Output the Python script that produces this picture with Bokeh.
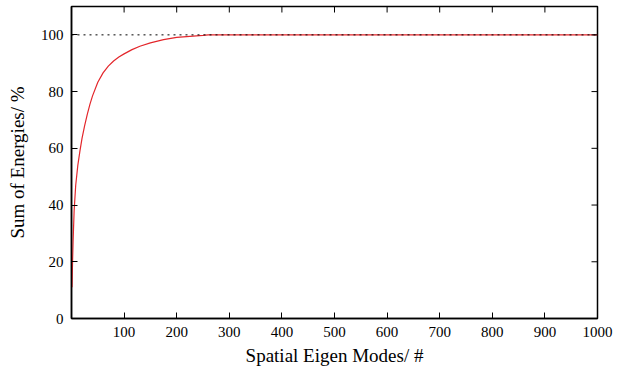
import math
from bokeh.plotting import figure
from bokeh.models import FixedTicker, Range1d, Span
from bokeh.embed import file_html
from bokeh.resources import INLINE

# Cumulative energy (percent) vs number of spatial eigen modes
modes = [1, 2, 3, 5, 8, 12, 16, 20, 25, 30, 35, 40, 50, 60, 70, 80, 90, 100,
         115, 130, 150, 175, 200, 225, 250, 260, 300, 400, 500, 600, 700, 800, 900, 1000]
energy = [11, 20, 27, 38, 47, 54, 59, 63.5, 68, 72, 75.5, 78.5, 83.3, 86.6, 89.0, 90.8, 92.2, 93.3,
          94.8, 96.0, 97.2, 98.3, 99.1, 99.5, 99.8, 100, 100, 100, 100, 100, 100, 100, 100, 100]
reference_level = 100
x_ticks = [100, 200, 300, 400, 500, 600, 700, 800, 900, 1000]
y_ticks = [0, 20, 40, 60, 80, 100]
x_min, x_max = 0, 1000
y_min, y_max = 0, 110
x_label = "Spatial Eigen Modes/ #"
y_label = "Sum of Energies/ %"

FONT = "Liberation Serif"

p = figure(width=618, height=378, output_backend="svg", toolbar_location=None,
           x_range=Range1d(x_min, x_max), y_range=Range1d(y_min, y_max),
           min_border_left=71, min_border_right=21, min_border_top=6, min_border_bottom=60)

p.background_fill_color = "white"
p.border_fill_color = "white"
p.grid.visible = False
p.outline_line_color = "black"
p.outline_line_width = 1.5

p.line(modes, energy, line_color="#e3262b", line_width=1.2)

ref = Span(location=reference_level, dimension="width", line_color="black",
           line_width=1, line_dash="2 4")
p.add_layout(ref)

for ax, ticks in ((p.xaxis[0], x_ticks), (p.yaxis[0], y_ticks)):
    ax.ticker = FixedTicker(ticks=ticks)
    ax.major_tick_in = 6
    ax.major_tick_out = 0
    ax.minor_tick_line_color = None
    ax.axis_line_color = "black"
    ax.axis_line_width = 1.5
    ax.major_tick_line_color = "black"
    ax.major_tick_line_width = 1
    ax.major_label_text_font = FONT
    ax.major_label_text_font_size = "15px"
    ax.major_label_text_color = "black"
    ax.axis_label_text_font = FONT
    ax.axis_label_text_font_size = "19px"
    ax.axis_label_text_font_style = "normal"
    ax.axis_label_text_color = "black"

p.xaxis[0].axis_label = x_label
p.yaxis[0].axis_label = y_label
p.xaxis[0].major_label_standoff = 8
p.xaxis[0].axis_label_standoff = 5
p.yaxis[0].major_label_standoff = 8
p.yaxis[0].axis_label_standoff = 10

# mirrored inward ticks on top and right edges (gnuplot style); half of each dash is clipped by the frame
p.scatter(x=x_ticks, y=[y_max] * len(x_ticks), marker="dash", size=12, angle=math.pi / 2,
          line_color="black", line_width=1)
p.scatter(x=[x_max] * len(y_ticks), y=y_ticks, marker="dash", size=12, angle=0,
          line_color="black", line_width=1)

open("out.html", "w").write(file_html(p, INLINE))
